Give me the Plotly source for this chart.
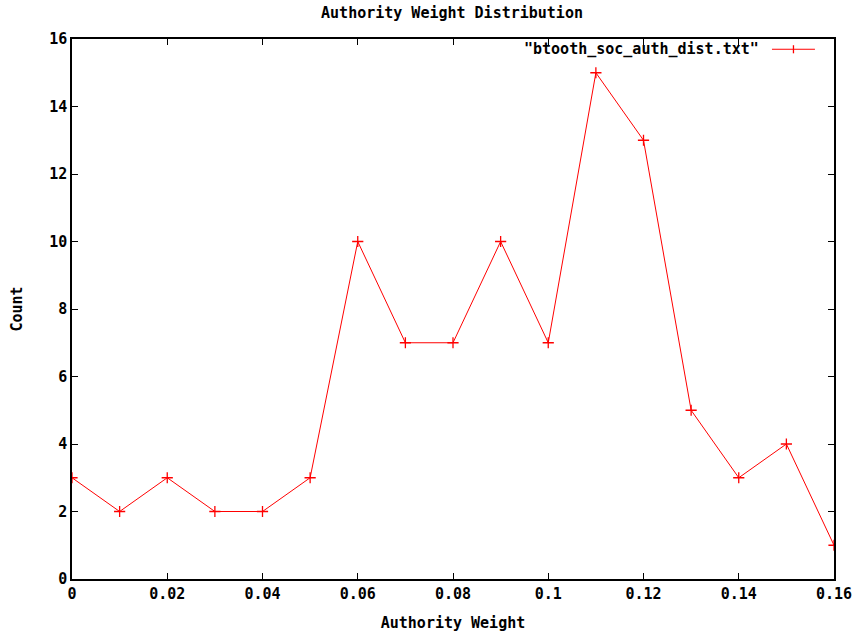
import plotly.graph_objects as go

authority_weight = [0.00, 0.01, 0.02, 0.03, 0.04, 0.05, 0.06, 0.07, 0.08,
                    0.09, 0.10, 0.11, 0.12, 0.13, 0.14, 0.15, 0.16]
count = [3, 2, 3, 2, 2, 3, 10, 7, 7, 10, 7, 15, 13, 5, 3, 4, 1]
x_ticks = [0, 0.02, 0.04, 0.06, 0.08, 0.1, 0.12, 0.14, 0.16]
x_tick_labels = ["0", "0.02", "0.04", "0.06", "0.08", "0.1", "0.12", "0.14", "0.16"]
y_ticks = [0, 2, 4, 6, 8, 10, 12, 14, 16]
series_name = '"btooth_soc_auth_dist.txt"'

FONT = dict(family="DejaVu Sans Mono", size=15, color="black", weight="bold")
RED = "#ff0000"

fig = go.Figure()
fig.add_trace(go.Scatter(
    x=authority_weight, y=count, mode="lines+markers", name=series_name,
    line=dict(color=RED, width=1),
    marker=dict(symbol="cross-thin", size=8, line=dict(color=RED, width=1.3)),
    showlegend=False,
))

axis_common = dict(showline=True, linecolor="black", linewidth=1.5, mirror="ticks",
                   ticks="inside", ticklen=6, tickwidth=1, tickcolor="black",
                   showgrid=False, zeroline=False, tickfont=FONT, automargin=False)

fig.update_layout(
    width=861, height=637,
    margin=dict(l=72, r=27, t=39, b=58),
    plot_bgcolor="white", paper_bgcolor="white",
    font=FONT,
    title=dict(text="Authority Weight Distribution", x=0.525, xanchor="center",
               yref="container", y=1 - 13 / 637, yanchor="middle", font=FONT),
    xaxis=dict(range=[0, 0.16], tickvals=x_ticks, ticktext=x_tick_labels,
               title=dict(text="Authority Weight", font=FONT, standoff=16), **axis_common),
    yaxis=dict(range=[0, 16], tickvals=y_ticks,
               title=dict(text="Count", font=FONT, standoff=23), **axis_common),
)

# legend (gnuplot style: text then line sample on the right)
fig.add_annotation(text=series_name, xref="paper", yref="paper", x=0.904, y=0.981,
                   xanchor="right", yanchor="middle", showarrow=False, font=FONT)
fig.add_shape(type="line", xref="paper", yref="paper", x0=0.9186, x1=0.975, y0=0.981, y1=0.981,
              line=dict(color=RED, width=1))
fig.add_shape(type="line", xref="paper", yref="paper", x0=0.9468, x1=0.9468, y0=0.9735, y1=0.9885,
              line=dict(color=RED, width=1.3))

fig.write_html("out.html", config={"displayModeBar": False},
               post_script="document.body.style.margin='0';")
